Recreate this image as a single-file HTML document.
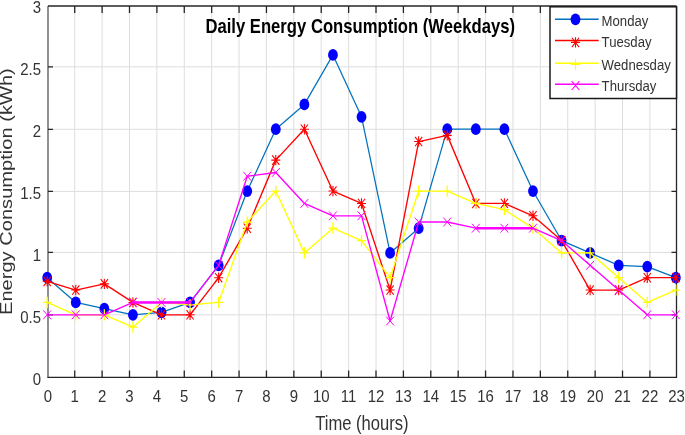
<!DOCTYPE html><html><head><meta charset="utf-8"><style>html,body{margin:0;padding:0;background:#fff;width:685px;height:435px;overflow:hidden}svg{display:block;will-change:transform}text{font-family:"Liberation Sans",sans-serif}</style></head><body>
<svg width="685" height="435" viewBox="0 0 685 435">
<rect width="685" height="435" fill="#fff"/>
<path d="M74.72 6V377.4M102.11 6V377.4M129.5 6V377.4M156.89 6V377.4M184.28 6V377.4M211.67 6V377.4M239.06 6V377.4M266.45 6V377.4M293.84 6V377.4M321.23 6V377.4M348.62 6V377.4M376.01 6V377.4M403.4 6V377.4M430.79 6V377.4M458.18 6V377.4M485.57 6V377.4M512.96 6V377.4M540.35 6V377.4M567.74 6V377.4M595.13 6V377.4M622.52 6V377.4M649.91 6V377.4M48 314.8H676.5M48 252.4H676.5M48 191.4H676.5M48 129.3H676.5M48 66.8H676.5" stroke="#dedede" stroke-width="1.0" fill="none"/>
<path d="M74.72 377.4v-7M74.72 6v7M102.11 377.4v-7M102.11 6v7M129.5 377.4v-7M129.5 6v7M156.89 377.4v-7M156.89 6v7M184.28 377.4v-7M184.28 6v7M211.67 377.4v-7M211.67 6v7M239.06 377.4v-7M239.06 6v7M266.45 377.4v-7M266.45 6v7M293.84 377.4v-7M293.84 6v7M321.23 377.4v-7M321.23 6v7M348.62 377.4v-7M348.62 6v7M376.01 377.4v-7M376.01 6v7M403.4 377.4v-7M403.4 6v7M430.79 377.4v-7M430.79 6v7M458.18 377.4v-7M458.18 6v7M485.57 377.4v-7M485.57 6v7M512.96 377.4v-7M512.96 6v7M540.35 377.4v-7M540.35 6v7M567.74 377.4v-7M567.74 6v7M595.13 377.4v-7M595.13 6v7M622.52 377.4v-7M622.52 6v7M649.91 377.4v-7M649.91 6v7M48 314.8h5M676.5 314.8h-5M48 252.4h5M676.5 252.4h-5M48 191.4h5M676.5 191.4h-5M48 129.3h5M676.5 129.3h-5M48 66.8h5M676.5 66.8h-5" stroke="#262626" stroke-width="1.3" fill="none"/>
<path d="M48 6V377.4" stroke="#262626" stroke-width="1.2" fill="none" opacity="0.85"/>
<path d="M48 6H676.5" stroke="#262626" stroke-width="1.4" fill="none"/>
<path d="M676.5 6V377.4M47.4 377.4H677.1" stroke="#262626" stroke-width="1.3" fill="none"/>
<polyline points="47.2,277.69 75.78,302.44 104.35,308.63 132.93,314.82 161.5,312.34 190.07,302.44 218.65,265.32 247.23,191.06 275.8,129.18 304.38,104.43 332.95,54.92 361.52,116.8 390.1,252.94 418.67,228.19 447.25,129.18 475.82,129.18 504.4,129.18 532.98,191.06 561.55,240.56 590.12,252.94 618.7,265.32 647.27,266.55 675.85,277.69" stroke="#0072bd" stroke-width="1.25" fill="none" stroke-linejoin="round"/>
<g fill="#0000ff"><ellipse cx="47.2" cy="277.69" rx="4.9" ry="5.9"/><ellipse cx="75.78" cy="302.44" rx="4.9" ry="5.9"/><ellipse cx="104.35" cy="308.63" rx="4.9" ry="5.9"/><ellipse cx="132.93" cy="314.82" rx="4.9" ry="5.9"/><ellipse cx="161.5" cy="312.34" rx="4.9" ry="5.9"/><ellipse cx="190.07" cy="302.44" rx="4.9" ry="5.9"/><ellipse cx="218.65" cy="265.32" rx="4.9" ry="5.9"/><ellipse cx="247.23" cy="191.06" rx="4.9" ry="5.9"/><ellipse cx="275.8" cy="129.18" rx="4.9" ry="5.9"/><ellipse cx="304.38" cy="104.43" rx="4.9" ry="5.9"/><ellipse cx="332.95" cy="54.92" rx="4.9" ry="5.9"/><ellipse cx="361.52" cy="116.8" rx="4.9" ry="5.9"/><ellipse cx="390.1" cy="252.94" rx="4.9" ry="5.9"/><ellipse cx="418.67" cy="228.19" rx="4.9" ry="5.9"/><ellipse cx="447.25" cy="129.18" rx="4.9" ry="5.9"/><ellipse cx="475.82" cy="129.18" rx="4.9" ry="5.9"/><ellipse cx="504.4" cy="129.18" rx="4.9" ry="5.9"/><ellipse cx="532.98" cy="191.06" rx="4.9" ry="5.9"/><ellipse cx="561.55" cy="240.56" rx="4.9" ry="5.9"/><ellipse cx="590.12" cy="252.94" rx="4.9" ry="5.9"/><ellipse cx="618.7" cy="265.32" rx="4.9" ry="5.9"/><ellipse cx="647.27" cy="266.55" rx="4.9" ry="5.9"/><ellipse cx="675.85" cy="277.69" rx="4.9" ry="5.9"/></g>
<polyline points="47.2,281.4 75.78,290.07 104.35,283.88 132.93,302.44 161.5,314.82 190.07,314.82 218.65,277.69 247.23,228.19 275.8,160.12 304.38,129.18 332.95,191.06 361.52,203.44 390.1,290.07 418.67,141.56 447.25,135.37 475.82,203.44 504.4,203.44 532.98,215.81 561.55,240.56 590.12,290.07 618.7,290.07 647.27,277.69 675.85,277.69" stroke="#ff0000" stroke-width="1.35" fill="none" stroke-linejoin="round"/>
<path d="M42.7 281.4H51.7M47.2 276.2V286.6M43.6 276.72L50.8 286.08M43.6 286.08L50.8 276.72M71.28 290.07H80.28M75.78 284.87V295.27M72.18 285.39L79.38 294.75M72.18 294.75L79.38 285.39M99.85 283.88H108.85M104.35 278.68V289.08M100.75 279.2L107.95 288.56M100.75 288.56L107.95 279.2M128.43 302.44H137.43M132.93 297.24V307.64M129.33 297.76L136.53 307.12M129.33 307.12L136.53 297.76M157 314.82H166M161.5 309.62V320.02M157.9 310.14L165.1 319.5M157.9 319.5L165.1 310.14M185.57 314.82H194.57M190.07 309.62V320.02M186.47 310.14L193.67 319.5M186.47 319.5L193.67 310.14M214.15 277.69H223.15M218.65 272.49V282.89M215.05 273.01L222.25 282.37M215.05 282.37L222.25 273.01M242.73 228.19H251.73M247.23 222.99V233.39M243.63 223.51L250.83 232.87M243.63 232.87L250.83 223.51M271.3 160.12H280.3M275.8 154.92V165.32M272.2 155.44L279.4 164.8M272.2 164.8L279.4 155.44M299.88 129.18H308.88M304.38 123.98V134.38M300.77 124.5L307.98 133.86M300.77 133.86L307.98 124.5M328.45 191.06H337.45M332.95 185.86V196.26M329.35 186.38L336.55 195.74M329.35 195.74L336.55 186.38M357.02 203.44H366.02M361.52 198.24V208.64M357.92 198.76L365.12 208.12M357.92 208.12L365.12 198.76M385.6 290.07H394.6M390.1 284.87V295.27M386.5 285.39L393.7 294.75M386.5 294.75L393.7 285.39M414.17 141.56H423.17M418.67 136.36V146.76M415.07 136.88L422.27 146.24M415.07 146.24L422.27 136.88M442.75 135.37H451.75M447.25 130.17V140.57M443.65 130.69L450.85 140.05M443.65 140.05L450.85 130.69M471.32 203.44H480.32M475.82 198.24V208.64M472.22 198.76L479.43 208.12M472.22 208.12L479.43 198.76M499.9 203.44H508.9M504.4 198.24V208.64M500.8 198.76L508 208.12M500.8 208.12L508 198.76M528.48 215.81H537.48M532.98 210.61V221.01M529.38 211.13L536.58 220.49M529.38 220.49L536.58 211.13M557.05 240.56H566.05M561.55 235.36V245.76M557.95 235.88L565.15 245.24M557.95 245.24L565.15 235.88M585.62 290.07H594.62M590.12 284.87V295.27M586.52 285.39L593.73 294.75M586.52 294.75L593.73 285.39M614.2 290.07H623.2M618.7 284.87V295.27M615.1 285.39L622.3 294.75M615.1 294.75L622.3 285.39M642.77 277.69H651.77M647.27 272.49V282.89M643.67 273.01L650.88 282.37M643.67 282.37L650.88 273.01M671.35 277.69H680.35M675.85 272.49V282.89M672.25 273.01L679.45 282.37M672.25 282.37L679.45 273.01" stroke="#ff0000" stroke-width="1.1" fill="none"/>
<polyline points="47.2,302.44 75.78,314.82 104.35,314.82 132.93,327.2 161.5,302.44 190.07,304.92 218.65,302.44 247.23,222 275.8,191.06 304.38,252.94 332.95,228.19 361.52,240.56 390.1,277.69 418.67,191.06 447.25,191.06 475.82,203.44 504.4,209.62 532.98,228.19 561.55,252.94 590.12,252.94 618.7,277.69 647.27,302.44 675.85,290.07" stroke="#ffff00" stroke-width="1.35" fill="none" stroke-linejoin="round"/>
<path d="M42.8 302.44H51.6M47.2 296.84V308.04M71.38 314.82H80.18M75.78 309.22V320.42M99.95 314.82H108.75M104.35 309.22V320.42M128.53 327.2H137.33M132.93 321.6V332.8M157.1 302.44H165.9M161.5 296.84V308.04M185.67 304.92H194.47M190.07 299.32V310.52M214.25 302.44H223.05M218.65 296.84V308.04M242.83 222H251.63M247.23 216.4V227.6M271.4 191.06H280.2M275.8 185.46V196.66M299.98 252.94H308.77M304.38 247.34V258.54M328.55 228.19H337.35M332.95 222.59V233.79M357.12 240.56H365.92M361.52 234.96V246.16M385.7 277.69H394.5M390.1 272.09V283.29M414.27 191.06H423.07M418.67 185.46V196.66M442.85 191.06H451.65M447.25 185.46V196.66M471.43 203.44H480.22M475.82 197.84V209.04M500 209.62H508.8M504.4 204.02V215.22M528.58 228.19H537.38M532.98 222.59V233.79M557.15 252.94H565.95M561.55 247.34V258.54M585.73 252.94H594.52M590.12 247.34V258.54M614.3 277.69H623.1M618.7 272.09V283.29M642.88 302.44H651.67M647.27 296.84V308.04M671.45 290.07H680.25M675.85 284.47V295.67" stroke="#ffff00" stroke-width="1.3" fill="none"/>
<polyline points="47.2,314.82 75.78,314.82 104.35,314.82 132.93,302.44 161.5,302.44 190.07,302.44 218.65,265.32 247.23,176.21 275.8,172.5 304.38,203.44 332.95,215.81 361.52,215.81 390.1,321.01 418.67,222 447.25,222 475.82,228.19 504.4,228.19 532.98,228.19 561.55,240.56 590.12,265.32 618.7,290.07 647.27,314.82 675.85,314.82" stroke="#ff00ff" stroke-width="1.35" fill="none" stroke-linejoin="round"/>
<path d="M132.93 302.44H190.07M475.82 228.19H532.98" stroke="#ff00ff" stroke-width="2.4" fill="none"/>
<path d="M43.3 310.42L51.1 319.22M43.3 319.22L51.1 310.42M71.88 310.42L79.68 319.22M71.88 319.22L79.68 310.42M100.45 310.42L108.25 319.22M100.45 319.22L108.25 310.42M129.03 298.04L136.83 306.84M129.03 306.84L136.83 298.04M157.6 298.04L165.4 306.84M157.6 306.84L165.4 298.04M186.17 298.04L193.97 306.84M186.17 306.84L193.97 298.04M214.75 260.92L222.55 269.72M214.75 269.72L222.55 260.92M243.33 171.81L251.13 180.61M243.33 180.61L251.13 171.81M271.9 168.1L279.7 176.9M271.9 176.9L279.7 168.1M300.48 199.04L308.27 207.84M300.48 207.84L308.27 199.04M329.05 211.41L336.85 220.21M329.05 220.21L336.85 211.41M357.62 211.41L365.42 220.21M357.62 220.21L365.42 211.41M386.2 316.61L394 325.41M386.2 325.41L394 316.61M414.77 217.6L422.57 226.4M414.77 226.4L422.57 217.6M443.35 217.6L451.15 226.4M443.35 226.4L451.15 217.6M471.93 223.79L479.72 232.59M471.93 232.59L479.72 223.79M500.5 223.79L508.3 232.59M500.5 232.59L508.3 223.79M529.08 223.79L536.88 232.59M529.08 232.59L536.88 223.79M557.65 236.16L565.45 244.96M557.65 244.96L565.45 236.16M586.23 260.92L594.02 269.72M586.23 269.72L594.02 260.92M614.8 285.67L622.6 294.47M614.8 294.47L622.6 285.67M643.38 310.42L651.17 319.22M643.38 319.22L651.17 310.42M671.95 310.42L679.75 319.22M671.95 319.22L679.75 310.42" stroke="#ff00ff" stroke-width="1.0" fill="none"/>
<g font-size="17.2" fill="#333333" text-anchor="middle">
<text transform="translate(48,401.6) scale(0.87,1)">0</text>
<text transform="translate(74.72,401.6) scale(0.87,1)">1</text>
<text transform="translate(102.11,401.6) scale(0.87,1)">2</text>
<text transform="translate(129.5,401.6) scale(0.87,1)">3</text>
<text transform="translate(156.89,401.6) scale(0.87,1)">4</text>
<text transform="translate(184.28,401.6) scale(0.87,1)">5</text>
<text transform="translate(211.67,401.6) scale(0.87,1)">6</text>
<text transform="translate(239.06,401.6) scale(0.87,1)">7</text>
<text transform="translate(266.45,401.6) scale(0.87,1)">8</text>
<text transform="translate(293.84,401.6) scale(0.87,1)">9</text>
<text transform="translate(321.23,401.6) scale(0.87,1)">10</text>
<text transform="translate(348.62,401.6) scale(0.87,1)">11</text>
<text transform="translate(376.01,401.6) scale(0.87,1)">12</text>
<text transform="translate(403.4,401.6) scale(0.87,1)">13</text>
<text transform="translate(430.79,401.6) scale(0.87,1)">14</text>
<text transform="translate(458.18,401.6) scale(0.87,1)">15</text>
<text transform="translate(485.57,401.6) scale(0.87,1)">16</text>
<text transform="translate(512.96,401.6) scale(0.87,1)">17</text>
<text transform="translate(540.35,401.6) scale(0.87,1)">18</text>
<text transform="translate(567.74,401.6) scale(0.87,1)">19</text>
<text transform="translate(595.13,401.6) scale(0.87,1)">20</text>
<text transform="translate(622.52,401.6) scale(0.87,1)">21</text>
<text transform="translate(649.91,401.6) scale(0.87,1)">22</text>
<text transform="translate(676.5,401.6) scale(0.87,1)">23</text>
</g>
<g font-size="17.2" fill="#333333" text-anchor="end">
<text transform="translate(41,384.6) scale(0.87,1)">0</text>
<text transform="translate(41,322.72) scale(0.87,1)">0.5</text>
<text transform="translate(41,260.84) scale(0.87,1)">1</text>
<text transform="translate(41,198.96) scale(0.87,1)">1.5</text>
<text transform="translate(41,137.08) scale(0.87,1)">2</text>
<text transform="translate(41,75.2) scale(0.87,1)">2.5</text>
<text transform="translate(41,13.32) scale(0.87,1)">3</text>
</g>
<text transform="translate(361.9,429.8) scale(0.851,1)" font-size="19.5" fill="#333333" text-anchor="middle">Time (hours)</text>
<text transform="translate(11.6,191.6) rotate(-90) scale(1,0.82)" font-size="20.1" fill="#333333" text-anchor="middle">Energy Consumption (kWh)</text>
<text transform="translate(360.2,32.6) scale(0.833,1)" font-size="20" font-weight="bold" fill="#000" text-anchor="middle">Daily Energy Consumption (Weekdays)</text>
<rect x="550" y="6.8" width="126.5" height="91.7" fill="#fff" stroke="#1a1a1a" stroke-width="1.5"/>
<path d="M555 19.3H598.7" stroke="#0072bd" stroke-width="1.5"/>
<text transform="translate(601.6,25.9) scale(0.895,1)" font-size="14.7" fill="#333333">Monday</text>
<path d="M555 40.6H598.7" stroke="#ff0000" stroke-width="1.5"/>
<text transform="translate(601.6,47.2) scale(0.895,1)" font-size="14.7" fill="#333333">Tuesday</text>
<path d="M555 63.2H598.7" stroke="#ffff00" stroke-width="1.5"/>
<text transform="translate(601.6,69.8) scale(0.895,1)" font-size="14.7" fill="#333333">Wednesday</text>
<path d="M555 84.3H598.7" stroke="#ff00ff" stroke-width="1.5"/>
<text transform="translate(601.6,90.9) scale(0.895,1)" font-size="14.7" fill="#333333">Thursday</text>
<ellipse cx="575.5" cy="19.3" rx="4.9" ry="5.9" fill="#0000ff"/>
<path d="M571 42.4H580M575.5 37.2V47.6M571.9 37.72L579.1 47.08M571.9 47.08L579.1 37.72" stroke="#ff0000" stroke-width="1.1" fill="none"/>
<path d="M571.1 64.5H579.9M575.5 58.9V70.1" stroke="#ffff00" stroke-width="1.1" fill="none"/>
<path d="M571.6 81.2L579.4 90M571.6 90L579.4 81.2" stroke="#ff00ff" stroke-width="1.1" fill="none"/>
</svg></body></html>
